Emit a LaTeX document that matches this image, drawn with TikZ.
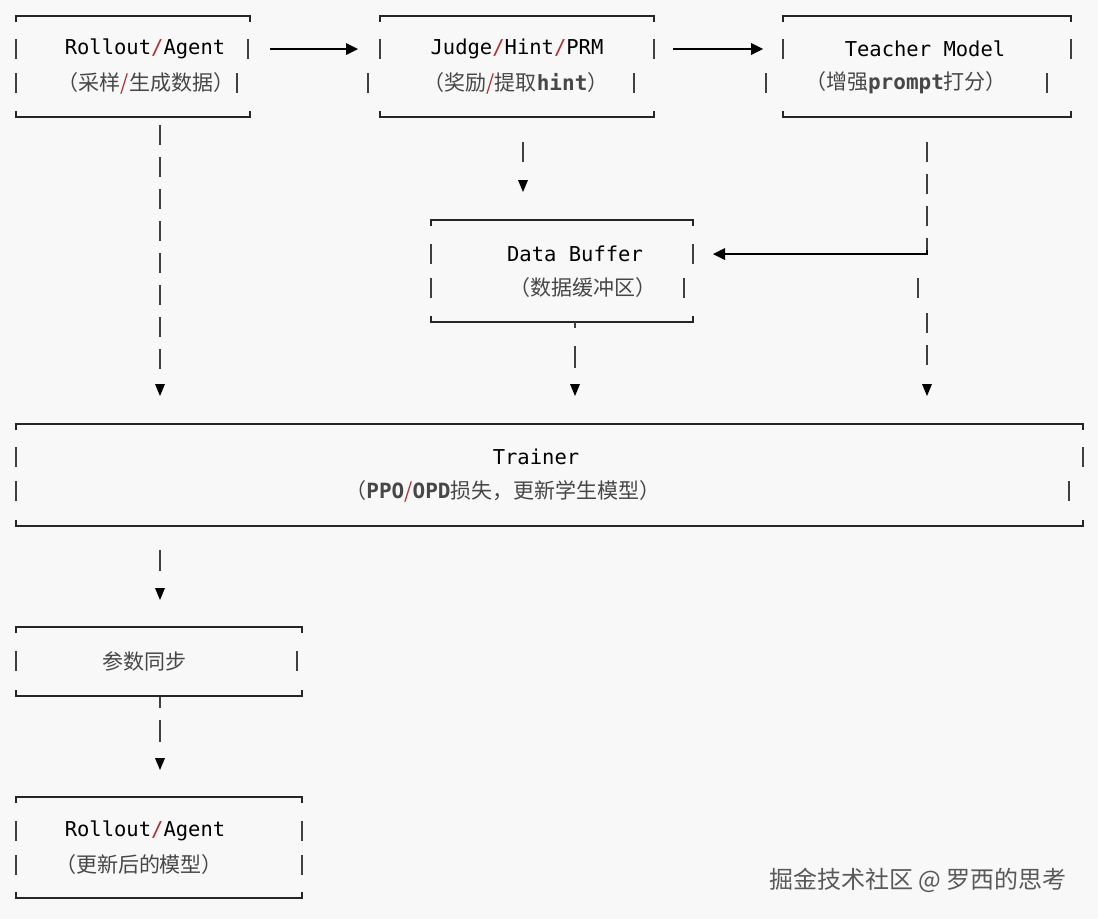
\documentclass[tikz,border=0pt]{standalone}
\usepackage{fontspec}
\setmonofont{DejaVu Sans Mono}
\newfontfamily\cjk{Noto Sans CJK SC}
\definecolor{bg}{HTML}{F8F8F8}
\definecolor{sl}{HTML}{B03030}
\newcommand{\rs}{{\color{sl}/}}
\begin{document}
\begin{tikzpicture}[x=1pt,y=-1pt,
  en/.style={font=\ttfamily\fontsize{20.5}{22}\selectfont, text=black, inner sep=0},
  cn/.style={font=\cjk\fontsize{21}{22}\selectfont, text=black!72, inner sep=0},
  bx/.style={line width=1.4pt, black!85},
  bar/.style={line width=1.4pt, black!75},
  dsh/.style={line width=1.4pt, black!75, dash pattern=on 20pt off 12pt},
  tip/.style={fill=black}]
\fill[bg] (0,0) rectangle (1098,919);
\useasboundingbox (0,0) rectangle (1098,919);
\newcommand{\bxo}[4]{%
  \draw[bx] (#1,#3+6) -- (#1,#3) -- (#2,#3) -- (#2,#3+6);
  \draw[bx] (#1,#4-6) -- (#1,#4) -- (#2,#4) -- (#2,#4-6);}
\newcommand{\sbar}[2]{\draw[bar] (#1,#2-10) -- (#1,#2+10);}
\newcommand{\tri}[2]{\fill (#1-5,#2-6) -- (#1+5,#2-6) -- (#1,#2+6) -- cycle;}
% Rollout
\bxo{16}{250}{16}{117}
\sbar{16}{49}\sbar{248}{49}\sbar{16}{83}\sbar{237}{83}
\node[en] (r1a) at (145,49) {Rollout\rs Agent};
\node[cn] (r1b) at (146,83) {（采样\rs 生成数据）};
% Judge
\bxo{380}{654}{16}{117}
\sbar{380}{49}\sbar{654}{49}\sbar{368}{83}\sbar{634}{83}
\node[en] (ja) at (517,49) {Judge\rs Hint\rs PRM};
\node[cn] (jb) at (516,83) {（奖励\rs 提取{\ttfamily\bfseries hint}）};
% Teacher
\bxo{783}{1071}{16}{117}
\sbar{783}{49}\sbar{1071}{49}\sbar{766}{83}\sbar{1047}{83}
\node[en] (ta) at (925,49) {Teacher Model};
\node[cn] (tb) at (906,83) {（增强{\ttfamily\bfseries prompt}打分）};
% Data buffer
\bxo{431}{693}{220}{322}
\sbar{431}{254}\sbar{693}{254}\sbar{431}{288}\sbar{684}{288}
\node[en] (da) at (575,254) {Data Buffer};
\node[cn] (db) at (583,288) {（数据缓冲区）};
% Trainer
\bxo{16}{1083}{424}{526}
\sbar{16}{457}\sbar{1083}{457}\sbar{16}{491}\sbar{1069}{491}
\node[en] (tra) at (536,457) {Trainer};
\node[cn] (trb) at (503,491) {（{\ttfamily\bfseries PPO}\rs{\ttfamily\bfseries OPD}损失，更新学生模型）};
% Sync
\bxo{16}{302}{627}{696}
\sbar{16}{661}\sbar{297}{661}
\node[cn] (sy) at (144,661) {参数同步};
% Rollout 2
\bxo{16}{302}{797}{898}
\sbar{16}{831}\sbar{302}{831}\sbar{16}{865}\sbar{302}{865}
\node[en] (r2a) at (145,831) {Rollout\rs Agent};
\node[cn] (r2b) at (139,865) {（更新后的模型）};
% horizontal arrows
\coordinate (h1a) at (270,49); \coordinate (h1b) at (346,49);
\draw[line width=1.3pt] (h1a) -- (h1b); \fill (346,43) -- (358,49) -- (346,55) -- cycle;
\coordinate (h2a) at (673,49); \coordinate (h2b) at (751,49);
\draw[line width=1.3pt] (h2a) -- (h2b); \fill (751,43) -- (763,49) -- (751,55) -- cycle;
% verticals
\draw[dsh] (160,125) -- (160,370); \tri{160}{390}
\draw[dsh] (523,142) -- (523,165); \tri{523}{186}
\draw[dsh] (927,142) -- (927,250); \draw[line width=1.3pt] (927,250) -- (927,254) -- (725,254);
\fill (725,248) -- (713,254) -- (725,260) -- cycle;
\sbar{918}{288}
\draw[dsh] (927,313) -- (927,370); \tri{927}{390}
\draw[bar] (575,322) -- (575,328); \draw[bar] (575,346) -- (575,368); \tri{575}{390}
\draw[bar] (160,550) -- (160,571); \tri{160}{594}
\draw[bar] (160,697) -- (160,708); \draw[bar] (160,720) -- (160,742); \tri{160}{764}
% watermark
\node[font=\cjk\fontsize{24}{26}\selectfont, text=black!65, inner sep=0] (wm) at (918,880) {掘金技术社区 @ 罗西的思考};
\end{tikzpicture}
\end{document}
